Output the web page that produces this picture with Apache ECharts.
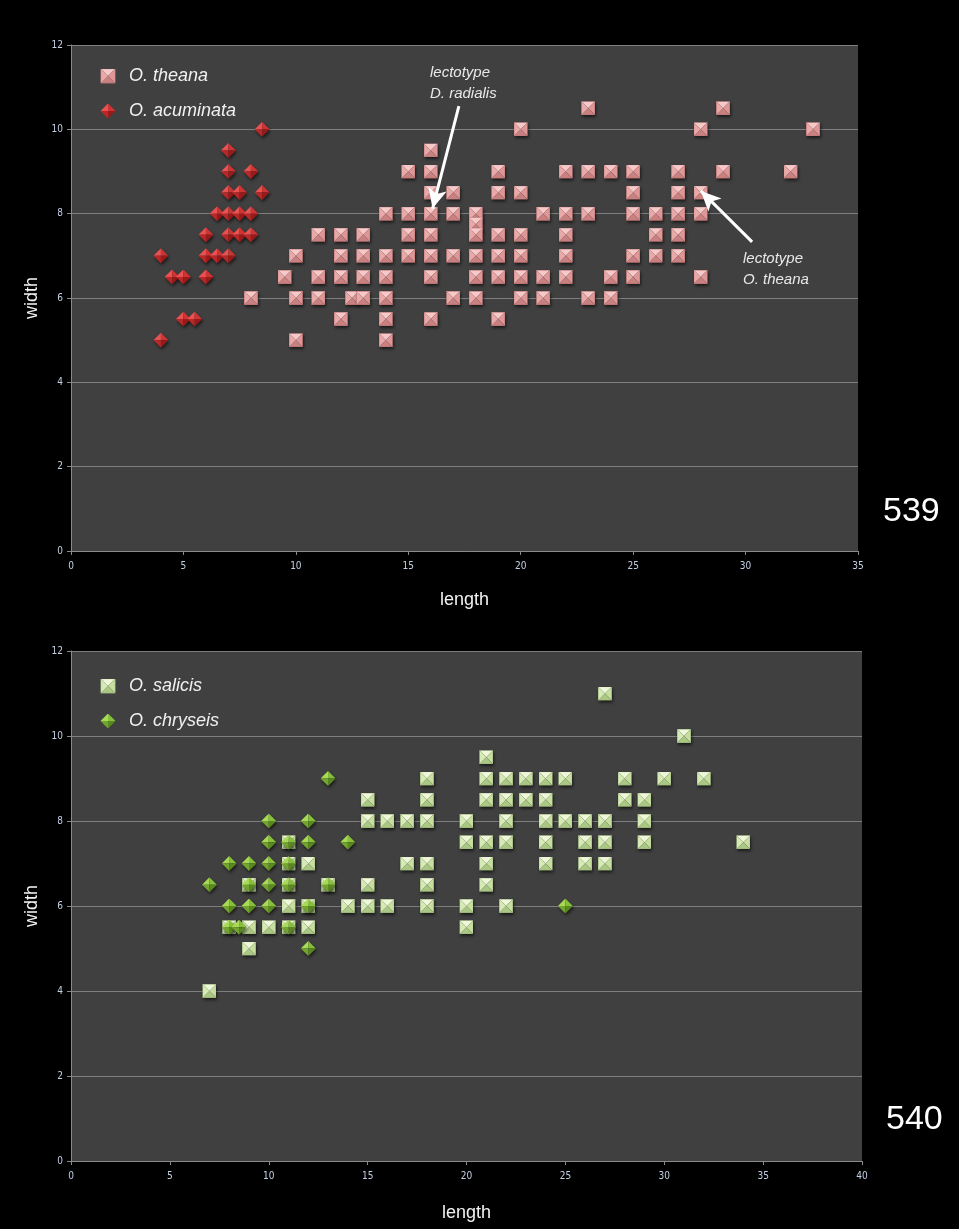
<!DOCTYPE html>
<html>
<head>
<meta charset="utf-8">
<title>539 / 540 length vs width</title>
<script src="https://cdn.jsdelivr.net/npm/echarts@6/dist/echarts.min.js"></script>
<style>
  html, body { margin: 0; padding: 0; background: #000; }
  #chartArea { width: 959px; height: 1229px; }
</style>
</head>
<body>
<div id="chartArea"></div>
<script>
// [length, width] pairs
var theana = [
  [23, 10.5], [29, 10.5],
  [20, 10], [28, 10], [33, 10],
  [16, 9.5],
  [15, 9], [16, 9], [19, 9], [22, 9], [23, 9], [24, 9], [25, 9], [27, 9], [29, 9], [32, 9],
  [16, 8.5], [17, 8.5], [19, 8.5], [20, 8.5], [25, 8.5], [27, 8.5], [28, 8.5],
  [14, 8], [15, 8], [16, 8], [17, 8], [18, 8], [21, 8], [22, 8], [23, 8], [25, 8], [26, 8], [27, 8], [28, 8],
  [18, 7.75],
  [11, 7.5], [12, 7.5], [13, 7.5], [15, 7.5], [16, 7.5], [18, 7.5], [19, 7.5], [20, 7.5], [22, 7.5], [26, 7.5], [27, 7.5],
  [10, 7], [12, 7], [13, 7], [14, 7], [15, 7], [16, 7], [17, 7], [18, 7], [19, 7], [20, 7], [22, 7], [25, 7], [26, 7], [27, 7],
  [9.5, 6.5], [11, 6.5], [12, 6.5], [13, 6.5], [14, 6.5], [16, 6.5], [18, 6.5], [19, 6.5], [20, 6.5], [21, 6.5], [22, 6.5], [24, 6.5], [25, 6.5], [28, 6.5],
  [8, 6], [10, 6], [11, 6], [12.5, 6], [13, 6], [14, 6], [17, 6], [18, 6], [20, 6], [21, 6], [23, 6], [24, 6],
  [12, 5.5], [14, 5.5], [16, 5.5], [19, 5.5],
  [10, 5], [14, 5]
];
var acuminata = [
  [8.5, 10], [7, 9.5], [7, 9], [8, 9],
  [7, 8.5], [7.5, 8.5], [8.5, 8.5],
  [6.5, 8], [7, 8], [7.5, 8], [8, 8],
  [6, 7.5], [7, 7.5], [7.5, 7.5], [8, 7.5],
  [4, 7], [6, 7], [6.5, 7], [7, 7],
  [4.5, 6.5], [5, 6.5], [6, 6.5],
  [5, 5.5], [5.5, 5.5], [4, 5]
];
var salicis = [
  [27, 11], [31, 10], [21, 9.5],
  [18, 9], [21, 9], [22, 9], [23, 9], [24, 9], [25, 9], [28, 9], [30, 9], [32, 9],
  [15, 8.5], [18, 8.5], [21, 8.5], [22, 8.5], [23, 8.5], [24, 8.5], [28, 8.5], [29, 8.5],
  [15, 8], [16, 8], [17, 8], [18, 8], [20, 8], [22, 8], [24, 8], [25, 8], [26, 8], [27, 8], [29, 8],
  [11, 7.5], [20, 7.5], [21, 7.5], [22, 7.5], [24, 7.5], [26, 7.5], [27, 7.5], [29, 7.5], [34, 7.5],
  [11, 7], [12, 7], [17, 7], [18, 7], [21, 7], [24, 7], [26, 7], [27, 7],
  [9, 6.5], [11, 6.5], [13, 6.5], [15, 6.5], [18, 6.5], [21, 6.5],
  [11, 6], [12, 6], [14, 6], [15, 6], [16, 6], [18, 6], [20, 6], [22, 6],
  [8, 5.5], [9, 5.5], [10, 5.5], [11, 5.5], [12, 5.5], [20, 5.5],
  [9, 5], [7, 4]
];
var chryseis = [
  [13, 9], [10, 8], [12, 8],
  [10, 7.5], [11, 7.5], [12, 7.5], [14, 7.5],
  [8, 7], [9, 7], [10, 7], [11, 7],
  [7, 6.5], [9, 6.5], [10, 6.5], [11, 6.5], [13, 6.5],
  [8, 6], [9, 6], [10, 6], [12, 6], [25, 6],
  [8, 5.5], [8.5, 5.5], [11, 5.5], [12, 5]
];
var widthTicks = [0, 12, 2];
var topLengthTicks = [0, 35, 5];
var bottomLengthTicks = [0, 40, 5];

// bevelled "pyramid" markers like the spreadsheet ones
function pyramidSquare(top, right, bottom, left, edge) {
    var svg = "<svg xmlns='http://www.w3.org/2000/svg' width='40' height='40' viewBox='0 0 20 20'>" +
        "<polygon points='0,0 20,0 10,10' fill='" + top + "'/>" +
        "<polygon points='20,0 20,20 10,10' fill='" + right + "'/>" +
        "<polygon points='20,20 0,20 10,10' fill='" + bottom + "'/>" +
        "<polygon points='0,20 0,0 10,10' fill='" + left + "'/>" +
        "<rect x='0.4' y='0.4' width='19.2' height='19.2' fill='none' stroke='" + edge + "' stroke-width='0.8'/>" +
        "</svg>";
    return 'image://data:image/svg+xml;charset=utf-8,' + encodeURIComponent(svg);
}
function pyramidDiamond(tl, tr, br, bl) {
    var svg = "<svg xmlns='http://www.w3.org/2000/svg' width='40' height='40' viewBox='0 0 20 20'>" +
        "<polygon points='0,10 10,0 10,10' fill='" + tl + "'/>" +
        "<polygon points='10,0 20,10 10,10' fill='" + tr + "'/>" +
        "<polygon points='20,10 10,20 10,10' fill='" + br + "'/>" +
        "<polygon points='10,20 0,10 10,10' fill='" + bl + "'/>" +
        "</svg>";
    return 'image://data:image/svg+xml;charset=utf-8,' + encodeURIComponent(svg);
}

var pinkSquare = pyramidSquare('#f7c8c8', '#de9696', '#c98080', '#eaa9a9', '#b06a6a');
var redDiamond = pyramidDiamond('#e85252', '#cf3434', '#981a1a', '#b82828');
var greenSquare = pyramidSquare('#eef8d8', '#c6dea0', '#abc784', '#d6eab6', '#90a870');
var greenDiamond = pyramidDiamond('#a8da56', '#86c03a', '#5a8820', '#72a42e');

var tickFont = '"Liberation Sans Narrow", "DejaVu Sans Condensed", sans-serif';
var textFont = '"Liberation Sans", Arial, sans-serif';
var markStyle = { opacity: 1, shadowBlur: 3, shadowOffsetX: 1, shadowOffsetY: 2, shadowColor: 'rgba(0,0,0,0.6)' };

function valueAxis(ticks, gridIndex, name, nameGap, isY) {
    return {
        type: 'value',
        gridIndex: gridIndex,
        min: ticks[0], max: ticks[1], interval: ticks[2],
        name: name,
        nameLocation: 'middle',
        nameGap: nameGap,
        nameTextStyle: { color: '#f2f2f2', fontSize: 18, fontFamily: textFont },
        axisLine: { show: true, onZero: false, lineStyle: { color: '#8a8a8a', width: 1 } },
        axisTick: { show: true, length: 4, lineStyle: { color: '#8a8a8a' } },
        axisLabel: { color: '#c4d0e4', fontSize: 10, fontFamily: tickFont, margin: isY ? 8 : 10 },
        splitLine: { show: isY, lineStyle: { color: '#7e7e7e', width: 1.2 } }
    };
}

var legendText = { color: '#f0f0f0', fontSize: 18, fontStyle: 'italic', fontFamily: textFont, padding: [0, 0, 0, 2] };
var annotFont = 'italic 15px "Liberation Sans", Arial, sans-serif';

var myChart = echarts.init(document.getElementById('chartArea'));

myChart.setOption({
    backgroundColor: '#000',
    animation: false,
    grid: [
        { left: 71, top: 45, width: 787, height: 506, show: true, backgroundColor: '#404040', borderWidth: 0 },
        { left: 71, top: 651, width: 791, height: 510, show: true, backgroundColor: '#404040', borderWidth: 0 }
    ],
    xAxis: [
        valueAxis(topLengthTicks, 0, 'length', 40, false),
        valueAxis(bottomLengthTicks, 1, 'length', 43, false)
    ],
    yAxis: [
        valueAxis(widthTicks, 0, 'width', 27, true),
        valueAxis(widthTicks, 1, 'width', 27, true)
    ],
    legend: [
        {
            data: ['O. theana', 'O. acuminata'],
            orient: 'vertical', left: 89, top: 62,
            itemWidth: 28, itemHeight: 15, itemGap: 17,
            itemStyle: { opacity: 1 },
            textStyle: legendText
        },
        {
            data: ['O. salicis', 'O. chryseis'],
            orient: 'vertical', left: 89, top: 672,
            itemWidth: 28, itemHeight: 15, itemGap: 17,
            itemStyle: { opacity: 1 },
            textStyle: legendText
        }
    ],
    series: [
        {
            name: 'O. theana', type: 'scatter', xAxisIndex: 0, yAxisIndex: 0,
            symbol: pinkSquare, symbolSize: 14, data: theana,
            itemStyle: markStyle,
            markLine: {
                silent: true,
                symbol: ['none', 'arrow'],
                symbolSize: [14, 20],
                label: { show: false },
                lineStyle: { color: '#ffffff', width: 3, type: 'solid', opacity: 1 },
                data: [
                    [{ coord: [17.25, 10.55] }, { coord: [16.08, 8.12] }],
                    [{ coord: [30.29, 7.33] }, { coord: [28.01, 8.54] }]
                ]
            }
        },
        {
            name: 'O. acuminata', type: 'scatter', xAxisIndex: 0, yAxisIndex: 0,
            symbol: redDiamond, symbolSize: 15, data: acuminata,
            itemStyle: markStyle
        },
        {
            name: 'O. salicis', type: 'scatter', xAxisIndex: 1, yAxisIndex: 1,
            symbol: greenSquare, symbolSize: 14, data: salicis,
            itemStyle: markStyle
        },
        {
            name: 'O. chryseis', type: 'scatter', xAxisIndex: 1, yAxisIndex: 1,
            symbol: greenDiamond, symbolSize: 15, data: chryseis,
            itemStyle: markStyle
        }
    ],
    graphic: [
        { type: 'text', left: 430, top: 62, z: 10,
          style: { text: 'lectotype\nD. radialis', font: annotFont, fill: '#e8e8e8', lineHeight: 21 } },
        { type: 'text', left: 743, top: 248, z: 10,
          style: { text: 'lectotype\nO. theana', font: annotFont, fill: '#e8e8e8', lineHeight: 21 } },
        { type: 'text', left: 883, top: 495,
          style: { text: '539', font: '34px "Liberation Sans", Arial, sans-serif', fill: '#ffffff' } },
        { type: 'text', left: 886, top: 1103,
          style: { text: '540', font: '34px "Liberation Sans", Arial, sans-serif', fill: '#ffffff' } }
    ]
});
</script>
</body>
</html>
